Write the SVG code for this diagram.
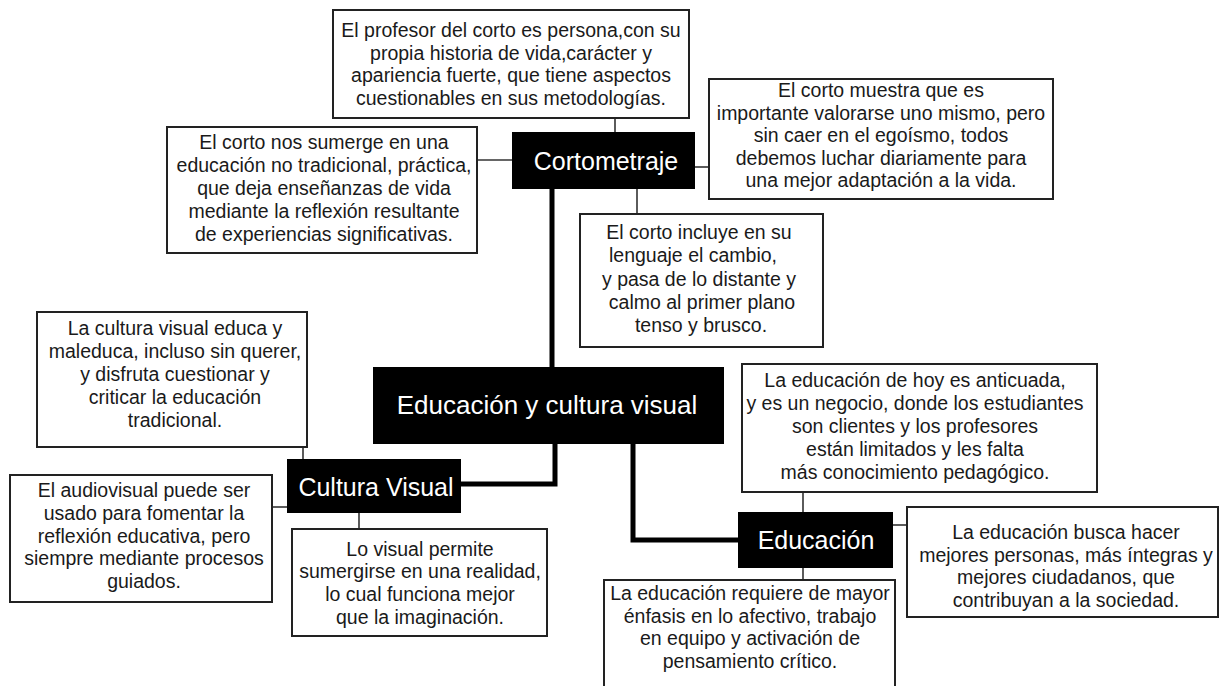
<svg xmlns="http://www.w3.org/2000/svg" width="1228" height="686" viewBox="0 0 1228 686">
<style>
.box{fill:#fff;stroke:#222;stroke-width:2}
.hub{fill:#000}
.t{font-family:"Liberation Sans",Arial,sans-serif;font-size:19.5px;fill:#1a1a1a;text-anchor:middle}
.h{font-family:"Liberation Sans",Arial,sans-serif;font-size:25px;fill:#fff;text-anchor:middle}
.thin{stroke:#333;stroke-width:1.6;fill:none}
.thick{stroke:#000;stroke-width:5;fill:none}
</style>
<rect width="1228" height="686" fill="#fff"/>
<g id="connectors">
<line class="thin" x1="615" y1="118" x2="615" y2="132"/>
<line class="thin" x1="477" y1="160" x2="512" y2="160"/>
<line class="thin" x1="695" y1="167" x2="709" y2="167"/>
<line class="thin" x1="637" y1="189" x2="637" y2="214"/>
<line class="thick" x1="552" y1="189" x2="552" y2="367"/>
<path class="thick" d="M555 444 V484 H461"/>
<path class="thick" d="M633 444 V540 H738"/>
<line class="thin" x1="303" y1="447" x2="303" y2="459"/>
<line class="thin" x1="272" y1="507" x2="287" y2="507"/>
<line class="thin" x1="359" y1="513" x2="359" y2="529"/>
<line class="thin" x1="803" y1="492" x2="803" y2="512"/>
<line class="thin" x1="893" y1="525" x2="907" y2="525"/>
<line class="thin" x1="803" y1="568" x2="803" y2="580"/>
</g>
<g id="n-profesor">
<rect class="box" x="333" y="10" width="356" height="108"/>
<text class="t" x="511" y="37">El profesor del corto es persona,con su<tspan x="511" dy="22.5">propia historia de vida,carácter y</tspan><tspan x="511" dy="22.5">apariencia fuerte, que tiene aspectos</tspan><tspan x="511" dy="22.5">cuestionables en sus metodologías.</tspan></text>
</g>
<g id="n-sumerge">
<rect class="box" x="167" y="127" width="310" height="126"/>
<text class="t" x="324" y="149">El corto nos sumerge en una<tspan x="324" dy="23">educación no tradicional, práctica,</tspan><tspan x="324" dy="23">que deja enseñanzas de vida</tspan><tspan x="324" dy="23">mediante la reflexión resultante</tspan><tspan x="324" dy="23">de experiencias significativas.</tspan></text>
</g>
<g id="n-cortometraje">
<rect class="hub" x="512" y="132" width="183" height="57"/>
<text class="h" x="606" y="170">Cortometraje</text>
</g>
<g id="n-muestra">
<rect class="box" x="709" y="79" width="344" height="120"/>
<text class="t" x="881" y="97">El corto muestra que es<tspan x="881" dy="22.6">importante valorarse uno mismo, pero</tspan><tspan x="881" dy="22.6">sin caer en el egoísmo, todos</tspan><tspan x="881" dy="22.6">debemos luchar diariamente para</tspan><tspan x="881" dy="22.6">una mejor adaptación a la vida.</tspan></text>
</g>
<g id="n-incluye">
<rect class="box" x="580" y="214" width="243" height="133"/>
<text class="t" x="699" y="239">El corto incluye en su<tspan x="693" dy="23.3">lenguaje el cambio,</tspan><tspan x="699" dy="23.3">y pasa de lo distante y</tspan><tspan x="702" dy="23.3">calmo al primer plano</tspan><tspan x="701" dy="23.3">tenso y brusco.</tspan></text>
</g>
<g id="n-main">
<rect class="hub" x="373" y="367" width="351" height="77"/>
<text class="h" x="547" y="414" style="font-size:26px">Educación y cultura visual</text>
</g>
<g id="n-cultura-educa">
<rect class="box" x="37" y="312" width="270" height="135"/>
<text class="t" x="175" y="335">La cultura visual educa y<tspan x="175" dy="23">maleduca, incluso sin querer,</tspan><tspan x="175" dy="23">y disfruta cuestionar y</tspan><tspan x="175" dy="23">criticar la educación</tspan><tspan x="175" dy="23">tradicional.</tspan></text>
</g>
<g id="n-cultura-visual">
<rect class="hub" x="287" y="459" width="174" height="54"/>
<text class="h" x="376" y="496">Cultura Visual</text>
</g>
<g id="n-audiovisual">
<rect class="box" x="10" y="475" width="262" height="127"/>
<text class="t" x="144" y="497">El audiovisual puede ser<tspan x="144" dy="22.8">usado para fomentar la</tspan><tspan x="144" dy="22.8">reflexión educativa, pero</tspan><tspan x="144" dy="22.8">siempre mediante procesos</tspan><tspan x="144" dy="22.8">guiados.</tspan></text>
</g>
<g id="n-lo-visual">
<rect class="box" x="292" y="529" width="255" height="107"/>
<text class="t" x="420" y="555.5">Lo visual permite<tspan x="420" dy="22.7">sumergirse en una realidad,</tspan><tspan x="420" dy="22.7">lo cual funciona mejor</tspan><tspan x="420" dy="22.7">que la imaginación.</tspan></text>
</g>
<g id="n-hoy">
<rect class="box" x="742" y="364" width="355" height="128"/>
<text class="t" x="915" y="387">La educación de hoy es anticuada,<tspan x="915" dy="23">y es un negocio, donde los estudiantes</tspan><tspan x="915" dy="23">son clientes y los profesores</tspan><tspan x="915" dy="23">están limitados y les falta</tspan><tspan x="915" dy="23">más conocimiento pedagógico.</tspan></text>
</g>
<g id="n-educacion">
<rect class="hub" x="738" y="512" width="155" height="56"/>
<text class="h" x="816" y="549">Educación</text>
</g>
<g id="n-busca">
<rect class="box" x="907" y="507" width="311" height="110"/>
<text class="t" x="1066" y="539">La educación busca hacer<tspan x="1066" dy="22.7">mejores personas, más íntegras y</tspan><tspan x="1066" dy="22.7">mejores ciudadanos, que</tspan><tspan x="1066" dy="22.7">contribuyan a la sociedad.</tspan></text>
</g>
<g id="n-requiere">
<rect class="box" x="604" y="580" width="291" height="120"/>
<text class="t" x="750" y="600">La educación requiere de mayor<tspan x="750" dy="22.7">énfasis en lo afectivo, trabajo</tspan><tspan x="750" dy="22.7">en equipo y activación de</tspan><tspan x="750" dy="22.7">pensamiento crítico.</tspan></text>
</g>
</svg>
